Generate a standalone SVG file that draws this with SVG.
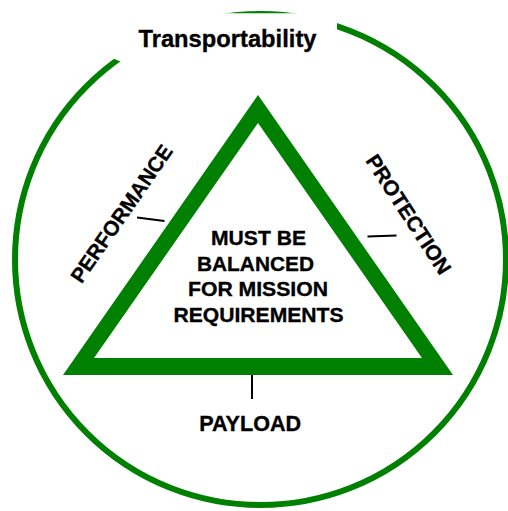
<svg xmlns="http://www.w3.org/2000/svg" width="508" height="511" viewBox="0 0 508 511">
<style>
.lbl{font-family:"Liberation Sans",Arial,sans-serif;font-weight:bold;fill:#000;stroke:#000;stroke-width:0.35;}
.tick{stroke:#000;stroke-width:2;fill:none;}
</style>
<rect width="508" height="511" fill="#fff"/>
<g id="ring">
<circle cx="260.5" cy="259.5" r="245.5" fill="none" stroke="#008000" stroke-width="6"/>
<path d="M112,58 L124,63 L337,63 L337,13.2 L112,13.2 Z" fill="#fff"/>
</g>
<g id="transportability">
<text class="lbl" x="227.5" y="47" font-size="24" text-anchor="middle" textLength="178" lengthAdjust="spacingAndGlyphs">Transportability</text>
</g>
<g id="triangle">
<path d="M258,95 L453,375 L63,375 Z M258,123 L94,358 L422,358 Z" fill="#008000" fill-rule="evenodd"/>
</g>
<g id="center-text" font-size="21" text-anchor="middle">
<text class="lbl" x="258.5" y="244.5" textLength="95" lengthAdjust="spacingAndGlyphs">MUST BE</text>
<text class="lbl" x="255.5" y="270.5" textLength="117" lengthAdjust="spacingAndGlyphs">BALANCED</text>
<text class="lbl" x="258" y="296" textLength="140" lengthAdjust="spacingAndGlyphs">FOR MISSION</text>
<text class="lbl" x="258.5" y="321.5" textLength="170" lengthAdjust="spacingAndGlyphs">REQUIREMENTS</text>
</g>
<g id="connectors">
<line class="tick" x1="137" y1="217.5" x2="164.5" y2="221"/>
<line class="tick" x1="367.5" y1="236.5" x2="396.5" y2="235.5"/>
<line class="tick" x1="252" y1="375" x2="252" y2="399"/>
</g>
<g id="performance">
<text class="lbl" font-size="21" text-anchor="middle" transform="translate(127.5,217.8) rotate(-55.3)" textLength="162" lengthAdjust="spacingAndGlyphs">PERFORMANCE</text>
</g>
<g id="protection">
<text class="lbl" font-size="21" text-anchor="middle" transform="translate(402.5,218.4) rotate(57)" textLength="138" lengthAdjust="spacingAndGlyphs">PROTECTION</text>
</g>
<g id="payload">
<text class="lbl" x="250.2" y="431" font-size="21.5" text-anchor="middle" textLength="102" lengthAdjust="spacingAndGlyphs">PAYLOAD</text>
</g>
</svg>
